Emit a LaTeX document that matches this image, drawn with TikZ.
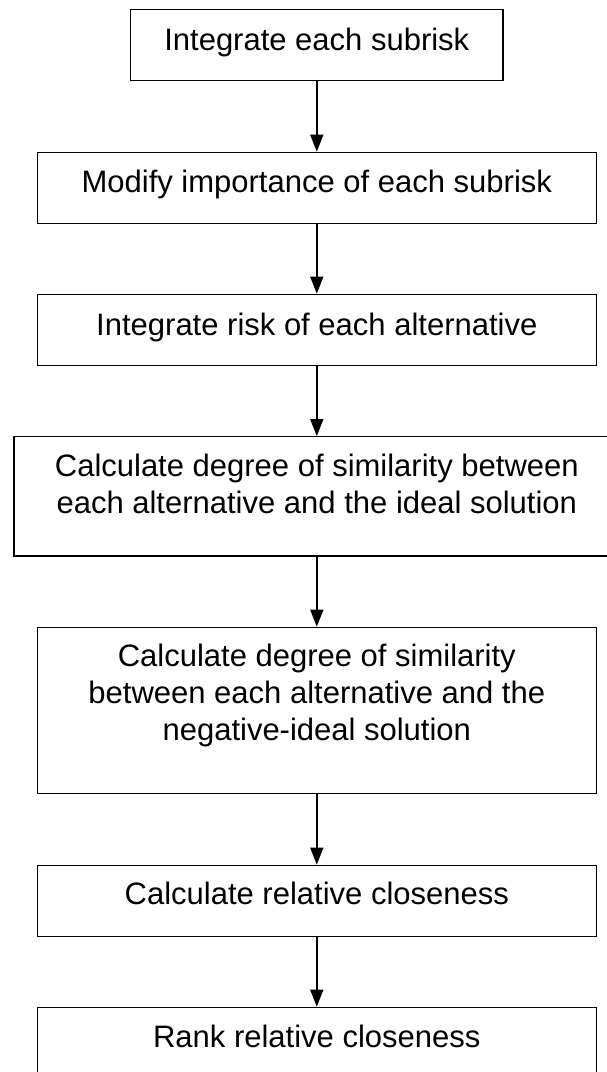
\documentclass[tikz,border=0pt]{standalone}
\usepackage{fontspec}
\setmainfont{Liberation Sans}
\usetikzlibrary{arrows.meta}
\begin{document}
\begin{tikzpicture}[x=1pt,y=-1pt,
  stepbox/.style={draw=black, line width=1.3pt, rectangle, inner sep=0pt},
  txt/.style={font=\fontsize{31}{37.5}\selectfont, inner sep=0pt, anchor=base},
  flow/.style={-{Triangle[length=17pt,width=13pt]}, line width=1.5pt}]
\useasboundingbox (0,0) rectangle (607,1072);
\clip (0,0) rectangle (607,1072);
% boxes
\node[stepbox, minimum width=372.6pt, minimum height=71pt] (b1) at (316.8,45.2) {};
\node[stepbox, minimum width=559.3pt, minimum height=71pt] (b2) at (316.8,187.8) {};
\node[stepbox, minimum width=559.3pt, minimum height=71.4pt] (b3) at (316.8,330) {};
\node[stepbox, minimum width=605.6pt, minimum height=119.3pt] (b4) at (316.8,496.4) {};
\node[stepbox, minimum width=559.3pt, minimum height=166pt] (b5) at (316.8,710.3) {};
\node[stepbox, minimum width=559.3pt, minimum height=71pt] (b6) at (316.8,900.8) {};
\node[stepbox, minimum width=559.3pt, minimum height=71pt] (b7) at (316.8,1042.8) {};
% texts
\node[txt] (t1) at (316.8,50.7) {Integrate each subrisk};
\node[txt] (t2) at (316.8,192.7) {Modify importance of each subrisk};
\node[txt] (t3) at (316.8,335) {Integrate risk of each alternative};
\node[txt] (t4a) at (316.8,476) {Calculate degree of similarity between};
\node[txt] (t4b) at (316.8,513) {each alternative and the ideal solution};
\node[txt] (t5a) at (316.8,666) {Calculate degree of similarity};
\node[txt] (t5b) at (316.8,703) {between each alternative and the};
\node[txt] (t5c) at (316.8,740) {negative-ideal solution};
\node[txt] (t6) at (316.8,904) {Calculate relative closeness};
\node[txt] (t7) at (316.8,1047) {Rank relative closeness};
% connectors
\draw[flow] (b1.south) -- (b2.north);
\draw[flow] (b2.south) -- (b3.north);
\draw[flow] (b3.south) -- (b4.north);
\draw[flow] (b4.south) -- (b5.north);
\draw[flow] (b5.south) -- (b6.north);
\draw[flow] (b6.south) -- (b7.north);
\end{tikzpicture}
\end{document}
